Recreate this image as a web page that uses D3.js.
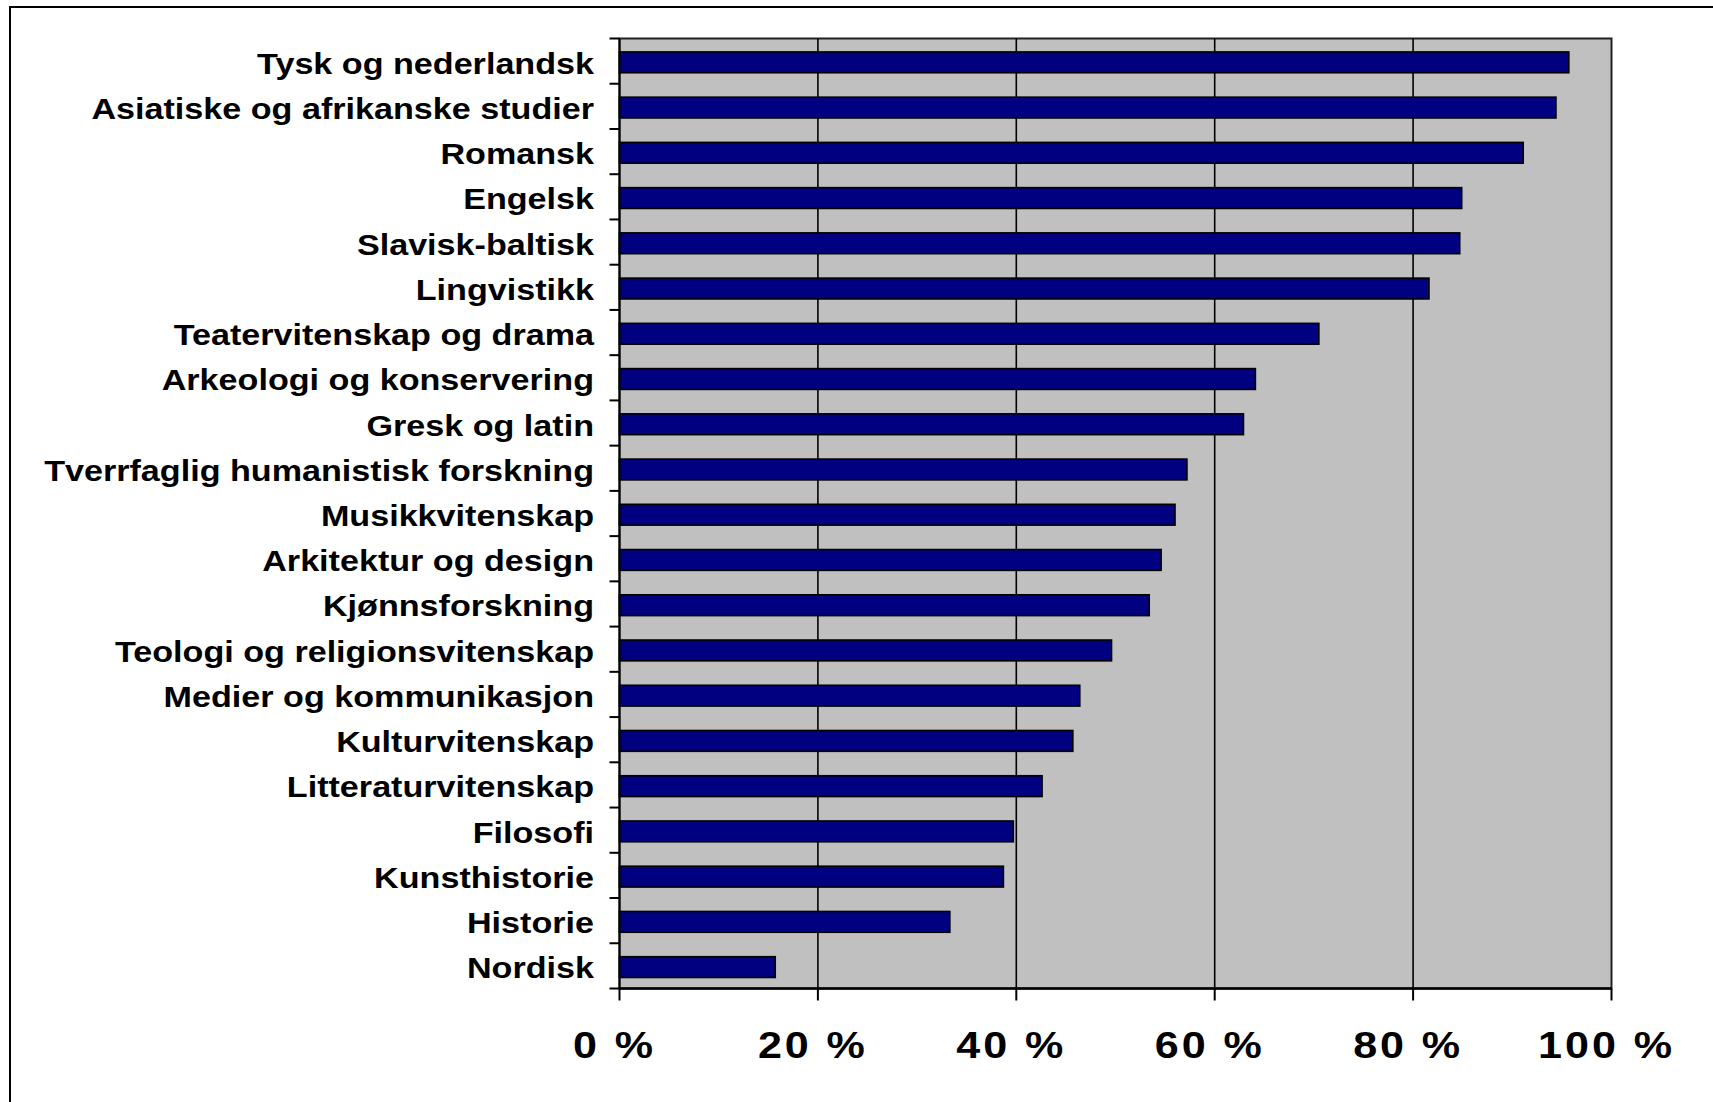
<!DOCTYPE html>
<html>
<head>
<meta charset="utf-8">
<script src="https://cdn.jsdelivr.net/npm/d3@7"></script>
<style>
  html, body { margin: 0; padding: 0; background: #fff; overflow: hidden; }
  svg { display: block; }
  text { font-family: "Liberation Sans", Arial, sans-serif; font-weight: bold; fill: #000; }
</style>
</head>
<body>
<svg id="chart" width="1713" height="1102"></svg>
<script>
const categories = [
  "Tysk og nederlandsk",
  "Asiatiske og afrikanske studier",
  "Romansk",
  "Engelsk",
  "Slavisk-baltisk",
  "Lingvistikk",
  "Teatervitenskap og drama",
  "Arkeologi og konservering",
  "Gresk og latin",
  "Tverrfaglig humanistisk forskning",
  "Musikkvitenskap",
  "Arkitektur og design",
  "Kjønnsforskning",
  "Teologi og religionsvitenskap",
  "Medier og kommunikasjon",
  "Kulturvitenskap",
  "Litteraturvitenskap",
  "Filosofi",
  "Kunsthistorie",
  "Historie",
  "Nordisk"
];
const values = [95.7, 94.4, 91.1, 84.9, 84.7, 81.6, 70.5, 64.1, 62.9, 57.2, 56.0, 54.6, 53.4, 49.6, 46.4, 45.7, 42.6, 39.7, 38.7, 33.3, 15.7];
const tickValues = [0, 20, 40, 60, 80, 100];
const tickLabels = ["0 %", "20 %", "40 %", "60 %", "80 %", "100 %"];

const svg = d3.select("#chart");
const plot = { left: 619.5, right: 1611.5, top: 38.5, bottom: 988.5 };
const sx = 1.165; // horizontal stretch of the text

// outer frame
svg.append("rect")
  .attr("x", 10).attr("y", 7).attr("width", 1720).attr("height", 1120)
  .attr("fill", "none").attr("stroke", "#000").attr("stroke-width", 2);

const x = d3.scaleLinear().domain([0, 100]).range([plot.left, plot.right]);
const y = d3.scaleBand().domain(categories).range([plot.top, plot.bottom])
  .paddingInner(0.54).paddingOuter(0.27).align(0.55);

// plot background
svg.append("rect")
  .attr("x", plot.left).attr("y", plot.top)
  .attr("width", plot.right - plot.left).attr("height", plot.bottom - plot.top)
  .attr("fill", "#C0C0C0").attr("stroke", "#222").attr("stroke-width", 2);

// gridlines
svg.append("g").selectAll("line")
  .data(tickValues.filter(v => v > 0 && v < 100))
  .join("line")
  .attr("x1", d => x(d)).attr("x2", d => x(d))
  .attr("y1", plot.top).attr("y2", plot.bottom)
  .attr("stroke", "#000").attr("stroke-width", 1.6);

// bars
svg.append("g").selectAll("rect")
  .data(categories)
  .join("rect")
  .attr("x", x(0))
  .attr("y", d => y(d))
  .attr("width", (d, i) => x(values[i]) - x(0))
  .attr("height", y.bandwidth())
  .attr("fill", "#000080")
  .attr("stroke", "#000").attr("stroke-width", 1.6);

// y axis line
svg.append("line")
  .attr("x1", plot.left).attr("x2", plot.left)
  .attr("y1", plot.top).attr("y2", plot.bottom)
  .attr("stroke", "#000").attr("stroke-width", 2);

// y ticks at band boundaries
const bounds = d3.range(categories.length + 1).map(i => plot.top + i * (plot.bottom - plot.top) / categories.length);
svg.append("g").selectAll("line")
  .data(bounds)
  .join("line")
  .attr("x1", plot.left - 10).attr("x2", plot.left)
  .attr("y1", d => d).attr("y2", d => d)
  .attr("stroke", "#000").attr("stroke-width", 2);

// x axis line
svg.append("line")
  .attr("x1", plot.left).attr("x2", plot.right)
  .attr("y1", plot.bottom).attr("y2", plot.bottom)
  .attr("stroke", "#000").attr("stroke-width", 2.5);

// x ticks
svg.append("g").selectAll("line")
  .data(tickValues)
  .join("line")
  .attr("x1", d => x(d)).attr("x2", d => x(d))
  .attr("y1", plot.bottom).attr("y2", plot.bottom + 12)
  .attr("stroke", "#000").attr("stroke-width", 2);

// category labels
const bandH = (plot.bottom - plot.top) / categories.length;
svg.append("g").selectAll("text")
  .data(categories)
  .join("text")
  .attr("transform", (d, i) => `translate(594,${plot.top + (i + 0.5) * bandH + 12.5}) scale(${sx},1)`)
  .attr("text-anchor", "end")
  .attr("font-size", 29.3)
  .text(d => d);

// x tick labels
svg.append("g").selectAll("text")
  .data(tickValues)
  .join("text")
  .attr("transform", (d, i) => `translate(${x(d) - 5},1058) scale(${sx},1)`)
  .attr("text-anchor", "middle")
  .attr("font-size", 37)
  .attr("letter-spacing", 2.5)
  .text((d, i) => tickLabels[i]);
</script>
</body>
</html>
